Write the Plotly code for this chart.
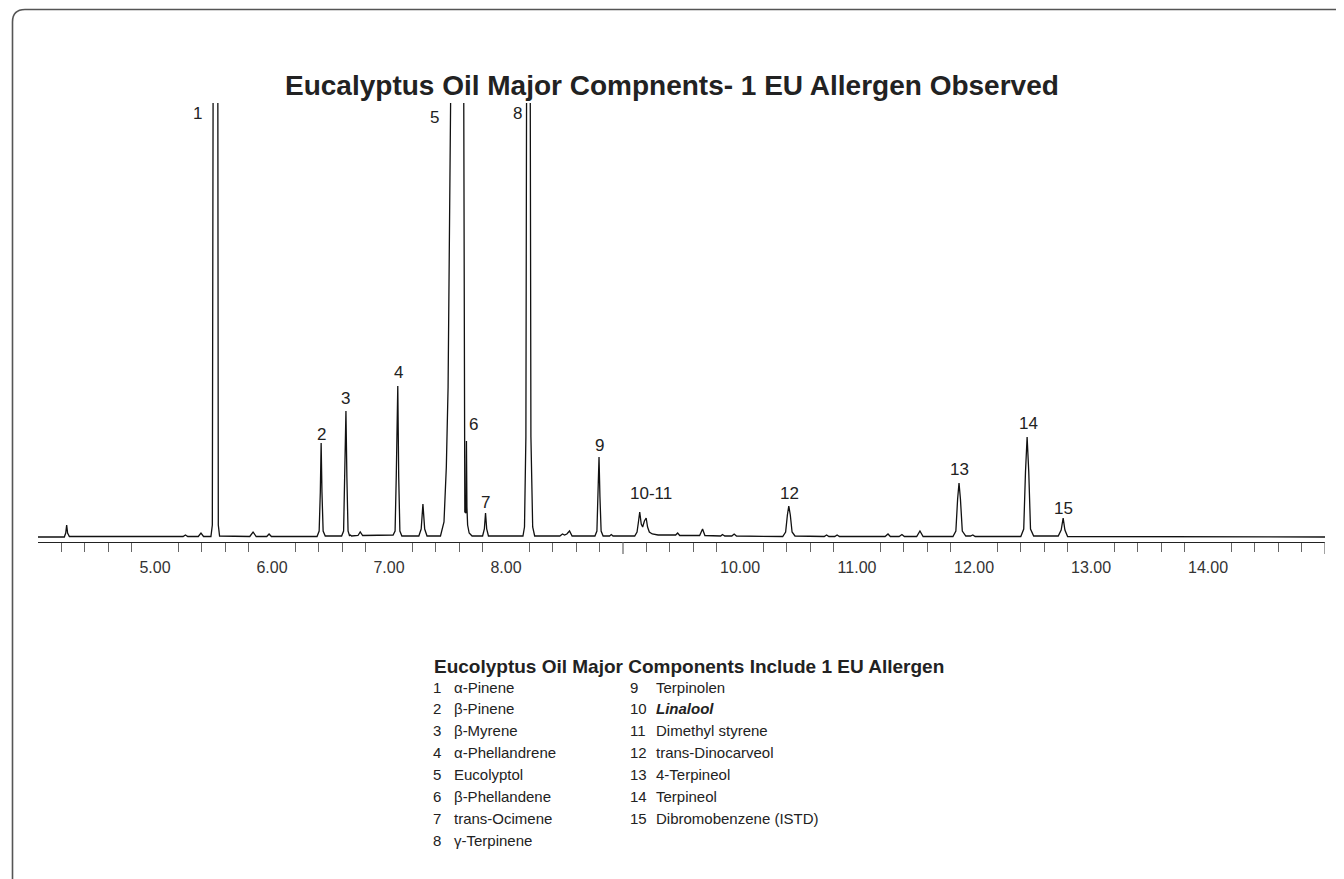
import plotly.graph_objects as go

# ---------------- data ----------------
# chromatogram trace vertices: retention time (min) and detector signal (arbitrary units)
rt = [4.00, 4.225, 4.237, 4.245, 4.253, 4.268, 5.24, 5.26, 5.28, 5.37, 5.393, 5.415,
      5.478, 5.490, 5.505, 5.532, 5.541, 5.552, 5.81, 5.838, 5.865, 5.955, 5.975, 5.995,
      6.385, 6.403, 6.413, 6.42, 6.427, 6.437, 6.455,
      6.595, 6.612, 6.622, 6.632, 6.64, 6.65, 6.662, 6.67, 6.68, 6.735, 6.754, 6.775,
      7.035, 7.052, 7.062, 7.075, 7.083, 7.093, 7.11,
      7.255, 7.275, 7.29, 7.305, 7.325,
      7.44, 7.47, 7.49, 7.505, 7.53, 7.545, 7.625, 7.638, 7.648, 7.658, 7.662, 7.666, 7.672, 7.685, 7.71,
      7.80, 7.815, 7.825, 7.835, 7.85,
      8.145, 8.158, 8.17, 8.185, 8.198, 8.213, 8.228, 8.245,
      8.46, 8.483, 8.50, 8.52, 8.543, 8.565,
      8.76, 8.777, 8.787, 8.795, 8.803, 8.813, 8.83, 8.885, 8.90, 8.915,
      9.10, 9.12, 9.132, 9.143, 9.156, 9.168, 9.183, 9.198, 9.21, 9.225, 9.25, 9.30,
      9.45, 9.467, 9.485, 9.655, 9.68, 9.70, 9.835, 9.85, 9.87, 9.93, 9.95, 9.97,
      10.365, 10.39, 10.405, 10.417, 10.43, 10.445, 10.47,
      10.72, 10.74, 10.76, 10.81, 10.83, 10.85,
      11.24, 11.265, 11.285, 11.36, 11.384, 11.405, 11.51, 11.538, 11.565,
      11.82, 11.845, 11.86, 11.872, 11.884, 11.90, 11.93, 11.97, 11.99, 12.01,
      12.40, 12.425, 12.44, 12.454, 12.468, 12.483, 12.51,
      12.72, 12.745, 12.762, 12.777, 12.80, 15.00]
signal = [0, 0, 4, 12, 4, 0.5, 0.5, 2, 0.5, 0.5, 4, 0.5,
          0.5, 12, 1000, 1000, 12, 1, 0.5, 5, 0.5, 0.5, 3, 0.5,
          0.5, 6, 45, 94, 45, 6, 1,
          1, 6, 60, 126, 60, 6, 1.5, 2, 1, 1.5, 5, 1.5,
          2, 6, 60, 151, 60, 6, 1,
          1, 8, 33, 8, 1,
          1, 15, 70, 150, 480, 1000, 1000, 480, 25, 24, 96, 30, 12, 4, 1,
          1, 8, 24, 8, 1,
          1, 10, 100, 1000, 1000, 100, 10, 1,
          1, 3, 2, 3, 6, 1,
          1, 6, 40, 80, 40, 6, 1, 1, 2.5, 1,
          1, 5, 15, 25, 13, 10, 16, 19, 10, 5, 3, 2,
          2, 4, 1.5, 1.5, 8, 1.5, 1, 2.5, 1, 1, 3, 1,
          0.5, 5, 22, 31, 22, 5, 1,
          0.5, 2, 0.5, 0.5, 2, 0.5,
          0.5, 3, 0.5, 0.5, 2.5, 0.5, 0.5, 6, 0.5,
          0.5, 6, 38, 54, 38, 6, 1, 1, 2, 0.5,
          0.5, 8, 65, 100, 65, 8, 1,
          1, 7, 19, 7, 0.5, 0]

# peak labels and where they sit (time, signal)
peak_labels = ["1", "2", "3", "4", "5", "6", "7", "8", "9", "10-11", "12", "13", "14", "15"]
label_rt = [5.36, 6.42, 6.632, 7.078, 7.388, 7.72, 7.828, 8.098, 8.795, 9.242, 10.426, 11.872, 12.462, 12.762]
label_sig = [424, 103, 139, 165, 420, 113, 35, 424, 92, 44, 44, 68, 114, 29]

# axis ticks
tick_vals = [5, 6, 7, 8, 10, 11, 12, 13, 14]
tick_text = ["5.00", "6.00", "7.00", "8.00", "10.00", "11.00", "12.00", "13.00", "14.00"]
minor_vals = [round(4 + 0.2 * i, 1) for i in range(1, 55) if abs((4 + 0.2 * i) - round(4 + 0.2 * i)) > 1e-6]
long_ticks = [9, 15]

# compound list
col1_num = ["1", "2", "3", "4", "5", "6", "7", "8"]
col1_name = ["α-Pinene", "β-Pinene", "β-Myrene", "α-Phellandrene", "Eucolyptol",
             "β-Phellandene", "trans-Ocimene", "γ-Terpinene"]
col2_num = ["9", "10", "11", "12", "13", "14", "15"]
col2_name = ["Terpinolen", "<b><i>Linalool</i></b>", "Dimethyl styrene", "trans-Dinocarveol",
             "4-Terpineol", "Terpineol", "Dibromobenzene (ISTD)"]

title_text = "Eucalyptus Oil Major Compnents- 1 EU Allergen Observed"
subtitle_text = "Eucolyptus Oil Major Components Include 1 EU Allergen"

# ---------------- layout helpers ----------------
OFF = 8                # page body margin of the html file
W, H = 1344 - OFF, 879 - OFF
# plot area in page pixels
PAGE_L, PAGE_R, PAGE_T, PAGE_B = 38, 1325, 103, 542
PL, PR, PT, PB = PAGE_L - OFF, PAGE_R - OFF, PAGE_T - OFF, PAGE_B - OFF


def px(xp):
    return (xp - OFF - PL) / (PR - PL)


def py(yp):
    return (PB - (yp - OFF)) / (PB - PT)


FONT = "Liberation Sans, Arial, Helvetica, sans-serif"
TXT = "#222222"

fig = go.Figure()
fig.add_trace(go.Scatter(x=rt, y=signal, mode="lines",
                         line=dict(color="#111111", width=1.3), hoverinfo="skip",
                         showlegend=False))

ann = []
for t, xv, yv in zip(peak_labels, label_rt, label_sig):
    ann.append(dict(x=xv, y=yv, xref="x", yref="y", text=t, showarrow=False,
                    xanchor="center", yanchor="middle",
                    font=dict(family=FONT, size=17, color=TXT)))

ann.append(dict(x=px(672), y=py(86), xref="paper", yref="paper", text="<b>" + title_text + "</b>",
                showarrow=False, xanchor="center", yanchor="middle",
                font=dict(family=FONT, size=28, color=TXT)))
ann.append(dict(x=px(432), y=py(666), xref="paper", yref="paper", text="<b>" + subtitle_text + "</b>",
                showarrow=False, xanchor="left", yanchor="middle",
                font=dict(family=FONT, size=19, color=TXT)))

row_y = [687 + 21.9 * i for i in range(8)]
for i, (n, nm) in enumerate(zip(col1_num, col1_name)):
    ann.append(dict(x=px(431), y=py(row_y[i]), xref="paper", yref="paper", text=n, showarrow=False,
                    xanchor="left", yanchor="middle", font=dict(family=FONT, size=15, color=TXT)))
    ann.append(dict(x=px(452), y=py(row_y[i]), xref="paper", yref="paper", text=nm, showarrow=False,
                    xanchor="left", yanchor="middle", font=dict(family=FONT, size=15, color=TXT)))
for i, (n, nm) in enumerate(zip(col2_num, col2_name)):
    ann.append(dict(x=px(628), y=py(row_y[i]), xref="paper", yref="paper", text=n, showarrow=False,
                    xanchor="left", yanchor="middle", font=dict(family=FONT, size=15, color=TXT)))
    ann.append(dict(x=px(654), y=py(row_y[i]), xref="paper", yref="paper", text=nm, showarrow=False,
                    xanchor="left", yanchor="middle", font=dict(family=FONT, size=15, color=TXT)))

shapes = []
for v in long_ticks:
    shapes.append(dict(type="line", xref="x", yref="paper", x0=v, x1=v, y0=0, y1=py(554),
                       line=dict(color="#666666", width=1.2)))
# rounded frame (top-left corner rounded, running off the right and bottom edges)
frame = (f"M {px(12.5)},{py(900)} L {px(12.5)},{py(22)} "
         f"Q {px(12.5)},{py(9.5)} {px(25)},{py(9.5)} L {px(1360)},{py(9.5)}")
shapes.append(dict(type="path", xref="paper", yref="paper", path=frame,
                   line=dict(color="#555555", width=1.6)))

fig.update_layout(
    width=W, height=H,
    margin=dict(l=PL, r=W - PR, t=PT, b=H - PB, pad=0),
    paper_bgcolor="white", plot_bgcolor="white",
    showlegend=False,
    xaxis=dict(range=[4, 15], showgrid=False, zeroline=False, showline=True,
               linecolor="#222222", linewidth=1.2,
               tickvals=tick_vals, ticktext=tick_text, ticks="", ticklen=0,
               ticklabelstandoff=11,
               tickfont=dict(family=FONT, size=16, color="#333333"),
               minor=dict(tickvals=minor_vals, ticks="outside", ticklen=9,
                          tickcolor="#666666", tickwidth=1.2, showgrid=False),
               fixedrange=True),
    yaxis=dict(range=[-5, 434], visible=False, fixedrange=True),
    annotations=ann, shapes=shapes,
)
fig.write_html("out.html")
